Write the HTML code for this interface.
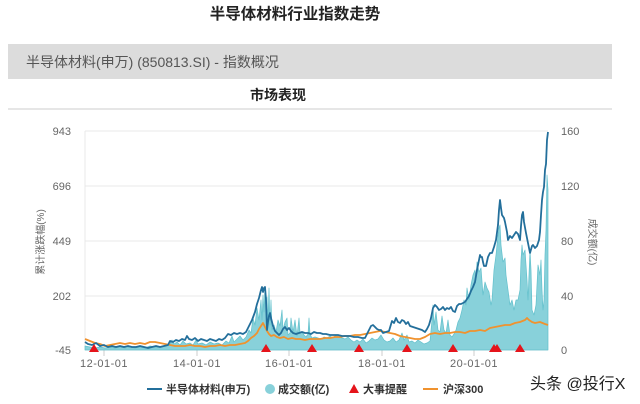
<!DOCTYPE html>
<html><head><meta charset="utf-8"><style>
html,body{margin:0;padding:0;background:#fff;width:640px;height:404px;overflow:hidden}
svg{display:block}
text{font-family:"Liberation Sans","Noto Sans CJK SC",sans-serif}
</style></head><body>
<svg width="640" height="404" viewBox="0 0 640 404" xmlns="http://www.w3.org/2000/svg">
<rect width="640" height="404" fill="#fff"/>
<text x="295" y="19" text-anchor="middle" font-size="15.5" font-weight="bold" fill="#222">半导体材料行业指数走势</text>
<rect x="8" y="44" width="604" height="35" fill="#dcdcdc"/>
<text x="26" y="67" font-size="14" fill="#555">半导体材料(申万) (850813.SI) - 指数概况</text>
<text x="278" y="100" text-anchor="middle" font-size="14" font-weight="bold" fill="#222">市场表现</text>
<rect x="8" y="108" width="604" height="2" fill="#e6e6e6"/>

<g stroke="#e8e8e8" stroke-width="1">
<line x1="85" y1="131" x2="548" y2="131"/>
<line x1="85" y1="186" x2="548" y2="186"/>
<line x1="85" y1="241" x2="548" y2="241"/>
<line x1="85" y1="296" x2="548" y2="296"/>
<line x1="85" y1="350" x2="548" y2="350"/>
<line x1="85" y1="131" x2="85" y2="350"/>
</g>
<g stroke="#ccc" stroke-width="1">
<line x1="104" y1="350" x2="104" y2="356"/>
<line x1="197" y1="350" x2="197" y2="356"/>
<line x1="289" y1="350" x2="289" y2="356"/>
<line x1="382" y1="350" x2="382" y2="356"/>
<line x1="474" y1="350" x2="474" y2="356"/>
</g>

<g font-size="11" fill="#666" text-anchor="end">
<text x="71" y="135">943</text>
<text x="71" y="190">696</text>
<text x="71" y="245">449</text>
<text x="71" y="300">202</text>
<text x="71" y="354">-45</text>
</g>
<g font-size="11" fill="#666">
<text x="561" y="135">160</text>
<text x="561" y="190">120</text>
<text x="561" y="245">80</text>
<text x="561" y="300">40</text>
<text x="561" y="354">0</text>
</g>
<g font-size="11" fill="#666" text-anchor="middle" letter-spacing="0.5">
<text x="104" y="367">12-01-01</text>
<text x="197" y="367">14-01-01</text>
<text x="289" y="367">16-01-01</text>
<text x="382" y="367">18-01-01</text>
<text x="474" y="367">20-01-01</text>
</g>
<text transform="translate(44,242) rotate(-90)" text-anchor="middle" font-size="10" fill="#666">累计涨跌幅(%)</text>
<text transform="translate(589,242) rotate(90)" text-anchor="middle" font-size="10" fill="#666">成交额(亿)</text>

<polygon fill="#88d1da" stroke="#62c0cc" stroke-width="0.7" stroke-linejoin="round" points="85,350 85,346 90,347 95,348 100,347 105,348 110,347 115,348 120,347 125,348 130,347 135,348 140,347 145,348 150,346 155,347 160,347 165,346 170,344 172,340 174,344 177,342 180,345 183,341 186,344 190,343 193,345 196,340 198,344 202,343 206,345 210,342 214,344 218,343 222,345 226,341 229,343 232,336 234,342 237,339 240,336 243,340 246,337 249,330 251,333 253,318 255,325 257,308 259,320 261,300 262,320 263,295 264,312 265,287 266,305 267,297 268,320 269,288 270,325 271,300 272,330 274,325 276,332 278,320 280,326 282,310 283,330 285,322 287,318 288,335 290,333 291,318 293,332 295,320 297,336 299,318 300,333 302,332 304,335 306,337 308,334 309,318 310,334 312,338 315,337 318,338 321,339 324,337 327,338 330,336 333,338 336,335 339,337 342,338 345,339 348,337 351,340 354,342 357,340 360,342 363,339 366,343 369,341 372,338 375,340 378,339 381,335 384,340 387,342 390,341 393,338 396,342 399,340 402,333 404,340 407,335 409,342 412,341 415,343 418,340 421,342 424,344 427,343 430,341 432,320 433,305 434,325 436,312 438,330 440,332 442,316 444,330 446,333 448,320 450,335 452,337 454,334 456,330 458,322 460,318 462,310 464,300 466,305 467,288 469,300 471,285 473,275 475,270 476,280 477,262 479,272 481,268 483,295 485,282 487,288 489,292 491,305 492,300 494,270 496,255 497,245 498,235 499,228 500,225 501,245 503,262 505,258 506,275 508,290 510,305 512,300 514,310 516,300 518,300 520,290 521,260 522,245 523,255 525,250 527,280 528,300 530,250 531,270 532,310 534,315 536,305 538,265 540,275 541,260 542,290 543,310 544,300 545,255 546,230 547,175 548,190 548,350"/>

<polyline fill="none" stroke="#f0922e" stroke-width="1.8" stroke-linejoin="round" points="85,339 90,341 95,343 100,344 105,346 110,345 115,344 120,343 125,344 130,343 135,344 140,343 145,344 150,342 155,342 160,343 165,344 170,345 175,346 180,346 185,346 190,345 195,346 200,346 205,347 210,346 215,346 220,345 225,346 230,345 235,345 240,344 245,343 248,341 251,338 254,336 257,333 259,329 261,326 263,323 265,327 267,331 269,334 271,336 274,335 277,337 280,338 284,337 288,339 292,338 296,339 300,339 305,340 310,339 315,339 320,339 325,338 330,338 335,337 340,337 345,336 350,336 355,335 360,335 365,334 370,333 375,332 380,331 385,332 390,333 395,334 400,336 405,337 410,338 415,339 420,339 425,337 430,334 435,333 440,334 445,333 450,333 455,332 460,332 465,333 470,331 475,331 480,330 485,331 490,328 495,327 500,326 505,325 510,325 515,323 520,322 525,320 527,318 529,320 532,322 535,323 540,322 545,324 548,325"/>

<polyline fill="none" stroke="#236f9b" stroke-width="1.8" stroke-linejoin="round" points="85,342 88,344 92,345 96,343 100,346 104,345 108,347 112,346 116,347 120,346 124,347 128,346 132,347 136,347 140,346 144,347 148,348 152,347 156,346 160,347 164,346 168,345 170,341 173,342 176,340 179,341 182,339 185,340 187,336 189,339 192,340 195,338 198,341 201,339 204,340 207,341 210,339 213,340 216,341 219,339 222,340 225,338 228,334 231,335 234,333 237,334 240,333 243,334 246,332 249,326 252,320 255,312 257,304 259,298 261,290 262,287 263,292 264,288 265,287 266,300 267,330 268,322 269,316 270,313 271,318 272,322 273,326 275,331 277,333 279,335 281,333 283,329 285,327 287,330 289,328 291,331 293,333 296,334 299,333 302,332 305,333 308,333 311,334 314,332 317,333 320,333 323,334 326,334 330,335 334,335 338,335 342,336 346,336 350,336 354,337 358,337 362,338 365,338 367,334 369,330 371,326 373,325 375,327 377,329 379,330 381,330 383,333 386,332 389,331 392,321 394,323 396,318 398,322 400,323 402,320 404,321 406,324 408,322 410,326 413,327 416,328 419,329 422,330 425,332 427,329 429,325 431,318 433,308 435,305 437,307 439,310 441,309 443,307 445,310 447,308 449,309 451,307 453,311 455,312 457,306 459,304 461,304 463,303 465,302 467,299 469,296 471,291 473,287 475,282 477,270 479,260 480,255 481,257 482,257 483,262 484,266 486,266 488,257 490,253 492,253 494,247 496,240 498,225 499,210 500,200 501,208 502,215 504,218 505,222 507,232 508,240 510,236 512,238 514,235 516,232 518,234 520,240 521,226 522,215 523,212 524,222 526,233 528,243 530,253 532,246 533,245 535,248 537,246 539,240 540,232 541,215 542,200 543,192 544,187 545,170 546,164 547,140 548,132"/>

<g fill="#e5141b">
<polygon points="89,352 99,352 94,344"/>
<polygon points="261,352 271,352 266,344"/>
<polygon points="307,352 317,352 312,344"/>
<polygon points="354,352 364,352 359,344"/>
<polygon points="402,352 412,352 407,344"/>
<polygon points="448,352 458,352 453,344"/>
<polygon points="489,352 499,352 494,344"/>
<polygon points="492,352 502,352 497,344"/>
<polygon points="515,352 525,352 520,344"/>
</g>

<rect x="147" y="388" width="15" height="2" fill="#236f9b"/>
<text x="166" y="393" font-size="11" font-weight="bold" fill="#333">半导体材料(申万)</text>
<circle cx="270" cy="389" r="5" fill="#88d1da"/>
<text x="278" y="393" font-size="11" font-weight="bold" fill="#333">成交额(亿)</text>
<polygon points="349,393 359,393 354,384" fill="#e5141b"/>
<text x="363" y="393" font-size="11" font-weight="bold" fill="#333">大事提醒</text>
<rect x="423" y="388" width="15" height="2" fill="#f0922e"/>
<text x="443" y="393" font-size="11" font-weight="bold" fill="#333">沪深300</text>

<text x="530" y="389" font-size="16" fill="#222">头条 @投行X</text>
</svg>
</body></html>
